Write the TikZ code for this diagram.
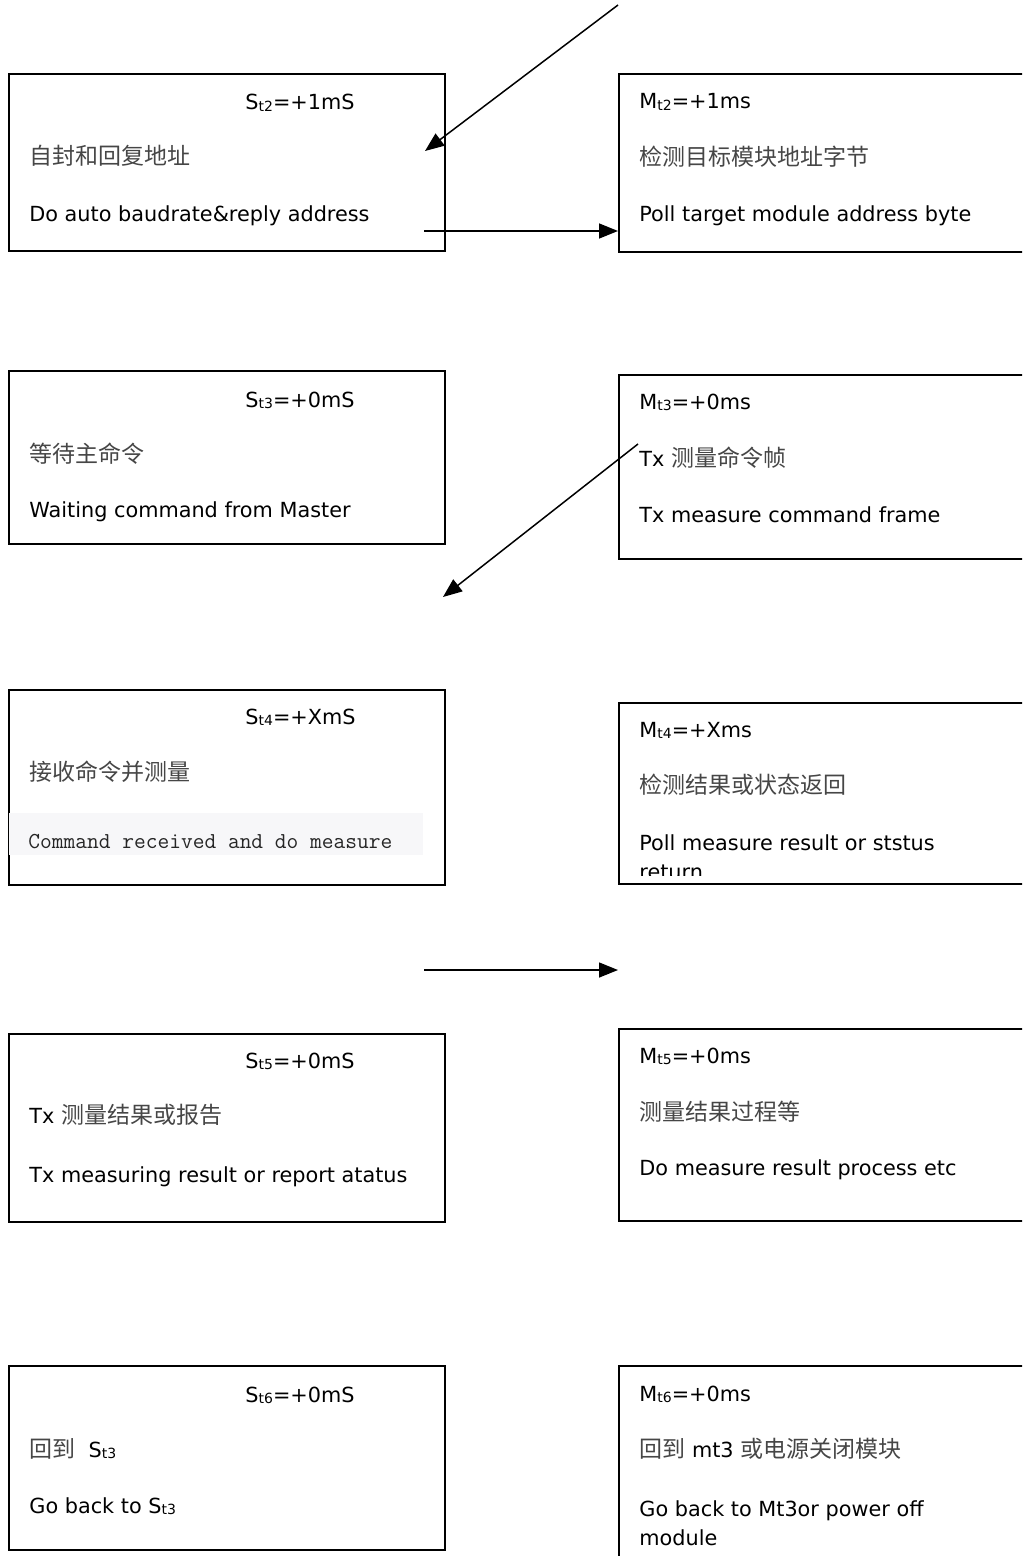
\documentclass[tikz,border=0pt]{standalone}
\usepackage{fontspec}
\setmainfont{DejaVu Sans}
\newfontfamily\cjk{Noto Sans CJK SC}
\usetikzlibrary{arrows.meta}
\definecolor{zhgray}{RGB}{70,70,70}
\definecolor{codebg}{RGB}{247,247,249}
\newcommand\lowidx[1]{\raisebox{-0.9pt}{\fontsize{7}{8}\selectfont #1}}
\newcommand\zh[1]{{\cjk\fontsize{11.5}{14}\selectfont\color{zhgray}#1}}

\begin{document}
\begin{tikzpicture}[x=0.5pt,y=-0.5pt,>={Triangle[length=9.5pt,width=7.5pt]},
  box/.style={draw, line width=0.8pt, inner sep=0pt, anchor=north west},
  txt/.style={anchor=base west, inner sep=0pt, font=\fontsize{10.4}{14.5}\selectfont},
  conn/.style={->, line width=0.75pt}]
  \useasboundingbox (0,0) rectangle (1022,1556);
  \clip (0,0) rectangle (1022,1556);
  % slave side
  \foreach \nm/\y/\h in {s2/73/88.5, s3/370/86.5, s4/689/97.5, s5/1033/94, s6/1365/92}
    \node[box, minimum width=218pt, minimum height=\h pt] (\nm) at (8,\y) {};
  % master side
  \foreach \nm/\y/\h in {m2/73/89, m3/374/92, m4/702/90.5, m5/1028/96, m6/1365/102.5}
    \node[box, minimum width=211pt, minimum height=\h pt] (\nm) at (618,\y) {};

  \node[txt] (s2h) at (245,110) {S\lowidx{t2}=+1mS};
  \node[txt] (s2c) at (29,165) {\zh{自封和回复地址}};
  \node[txt] (s2e) at (29,222) {Do auto baudrate\&reply address};

  \node[txt] (m2h) at (639,109) {M\lowidx{t2}=+1ms};
  \node[txt] (m2c) at (639,166) {\zh{检测目标模块地址字节}};
  \node[txt] (m2e) at (639,222) {Poll target module address byte};

  \node[txt] (s3h) at (245,407) {S\lowidx{t3}=+0mS};
  \node[txt] (s3c) at (29,462) {\zh{等待主命令}};
  \node[txt] (s3e) at (29,517) {Waiting command from Master};

  \node[txt] (m3h) at (639,409) {M\lowidx{t3}=+0ms};
  \node[txt] (m3c) at (639,466) {Tx \zh{测量命令帧}};
  \node[txt] (m3e) at (639,522) {Tx measure command frame};

  \node[txt] (s4h) at (245,724) {S\lowidx{t4}=+XmS};
  \node[txt] (s4c) at (29,780) {\zh{接收命令并测量}};
  \node[fill=codebg, anchor=north west, inner sep=0pt, minimum width=207pt, minimum height=21pt] (s4bg) at (9,813) {};
  \node[txt, font=\ttfamily\fontsize{11.4}{14}\selectfont, text=black!85] (s4e) at (28,848) {Command received and do measure};

  \node[txt] (m4h) at (639,737) {M\lowidx{t4}=+Xms};
  \node[txt] (m4c) at (639,793) {\zh{检测结果或状态返回}};
  \begin{scope}
    \clip (618,702) rectangle (1022,875);
    \node[txt] (m4e) at (639,850) {Poll measure result or ststus};
    \node[txt] (m4f) at (639,879) {return};
  \end{scope}

  \node[txt] (s5h) at (245,1068) {S\lowidx{t5}=+0mS};
  \node[txt] (s5c) at (29,1123) {Tx \zh{测量结果或报告}};
  \node[txt] (s5e) at (29,1182) {Tx measuring result or report atatus};

  \node[txt] (m5h) at (639,1063) {M\lowidx{t5}=+0ms};
  \node[txt] (m5c) at (639,1120) {\zh{测量结果过程等}};
  \node[txt] (m5e) at (639,1175) {Do measure result process etc};

  \node[txt] (s6h) at (245,1402) {S\lowidx{t6}=+0mS};
  \node[txt] (s6c) at (29,1457) {\zh{回到}\ \ S\lowidx{t3}};
  \node[txt] (s6e) at (29,1513) {Go back to S\lowidx{t3}};

  \node[txt] (m6h) at (639,1401) {M\lowidx{t6}=+0ms};
  \node[txt] (m6c) at (639,1457) {\zh{回到} mt3 \zh{或电源关闭模块}};
  \node[txt] (m6e) at (639,1516) {Go back to Mt3or power off};
  \node[txt] (m6f) at (639,1545) {module};

  % connectors
  \coordinate (a1s) at (618,5);
  \coordinate (a1e) at (425,151);
  \coordinate (a2s) at (424,231);
  \coordinate (a2e) at (618,231);
  \coordinate (a3s) at (638,444);
  \coordinate (a3e) at (443,597);
  \coordinate (a4s) at (424,970);
  \coordinate (a4e) at (618,970);
  \draw[conn] (a1s) -- (a1e);
  \draw[conn] (a2s) -- (a2e);
  \draw[conn] (a3s) -- (a3e);
  \draw[conn] (a4s) -- (a4e);
\end{tikzpicture}
\end{document}
